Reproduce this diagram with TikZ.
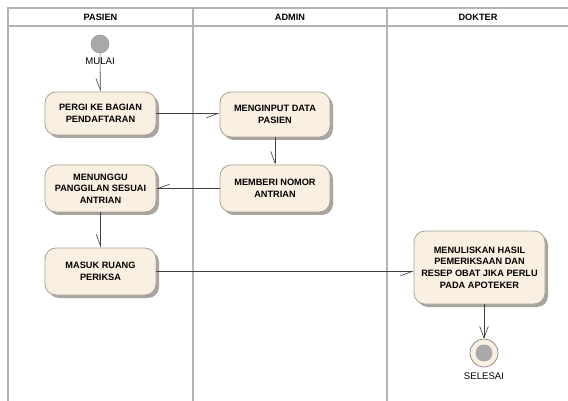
\documentclass[tikz,border=0pt]{standalone}
\usepackage{fontspec}
\setmainfont{Liberation Sans}
\usetikzlibrary{arrows.meta,shadows}
\definecolor{lanegray}{HTML}{B4B4B4}
\definecolor{boxfill}{HTML}{FAF0E2}
\definecolor{boxline}{HTML}{A8A298}
\definecolor{shadowgray}{HTML}{A8A49E}
\definecolor{dotgray}{HTML}{A9A9A9}
\tikzset{
  lane/.style={draw=lanegray, line width=1.6pt},
  activity/.style={draw=boxline, line width=0.8pt, fill=boxfill, rounded corners=11pt,
    align=center, inner sep=0pt, font=\fontsize{9.2}{11.7}\selectfont\bfseries,
    drop shadow={shadow xshift=3pt, shadow yshift=-3pt, fill=shadowgray, opacity=1}},
  header/.style={font=\fontsize{9.2}{11}\selectfont\bfseries},
  caption/.style={font=\fontsize{9.6}{11}\selectfont},
  flow/.style={draw=black!75, line width=0.6pt,
    -{Straight Barb[harpoon,swap,length=11.5pt,width=8.6pt,line width=0.6pt]}},
  endflow/.style={draw=black!75, line width=0.6pt,
    -{Straight Barb[length=11.5pt,width=8.6pt,line width=0.6pt]}}
}
\begin{document}
\begin{tikzpicture}[x=1pt,y=-1pt]
\useasboundingbox (0,0) rectangle (568,401);
% swimlane frame
\draw[lane] (8,401) -- (8,8) -- (572,8);
\draw[lane] (8,26) -- (572,26);
\draw[lane] (193,8) -- (193,401);
\draw[lane] (387,8) -- (387,401);
\node[header] (hp) at (100.5,17.5) {PASIEN};
\node[header] (ha) at (290,17.5) {ADMIN};
\node[header] (hd) at (478,17.5) {DOKTER};
% start
\node[circle, fill=dotgray, draw=dotgray!85!black, line width=0.4pt, minimum size=18pt, inner sep=0pt] (start) at (100,44) {};
\node[caption] (mulai) at (100,61) {MULAI};
% activities
\node[activity, minimum width=111pt, minimum height=43pt] (pergi) at (100.5,113.5) {PERGI KE BAGIAN\\PENDAFTARAN};
\node[activity, minimum width=110pt, minimum height=45pt] (input) at (275,114.5) {MENGINPUT DATA\\PASIEN};
\node[activity, minimum width=110pt, minimum height=47pt] (nomor) at (275,188.5) {MEMBERI NOMOR\\ANTRIAN};
\node[activity, minimum width=111pt, minimum height=47pt] (tunggu) at (100.5,188.5) {MENUNGGU\\PANGGILAN SESUAI\\ANTRIAN};
\node[activity, minimum width=111pt, minimum height=47pt] (masuk) at (100.5,271.5) {MASUK RUANG\\PERIKSA};
\node[activity, minimum width=131pt, minimum height=73pt] (tulis) at (479.5,267.5) {MENULISKAN HASIL\\PEMERIKSAAN DAN\\RESEP OBAT JIKA PERLU\\PADA APOTEKER};
% final
\node[circle, fill=boxfill, draw=boxline!70!black, line width=0.6pt, minimum size=28pt, inner sep=0pt] (final) at (484,353) {};
\node[circle, fill=dotgray, minimum size=17pt, inner sep=0pt] (finaldot) at (final) {};
\node[caption] (selesai) at (484,376) {SELESAI};
% flows
\draw[flow] (start) -- (pergi);
\draw[flow] (pergi.east) -- (input.west |- pergi.east);
\draw[flow] (input.south) -- (nomor.north);
\draw[flow] (nomor.west) -- (tunggu.east);
\draw[flow] (tunggu) -- (masuk);
\draw[flow] (masuk.east) -- (tulis.west |- masuk.east);
\draw[endflow] (tulis.south -| final) -- (final.north);
\end{tikzpicture}
\end{document}
